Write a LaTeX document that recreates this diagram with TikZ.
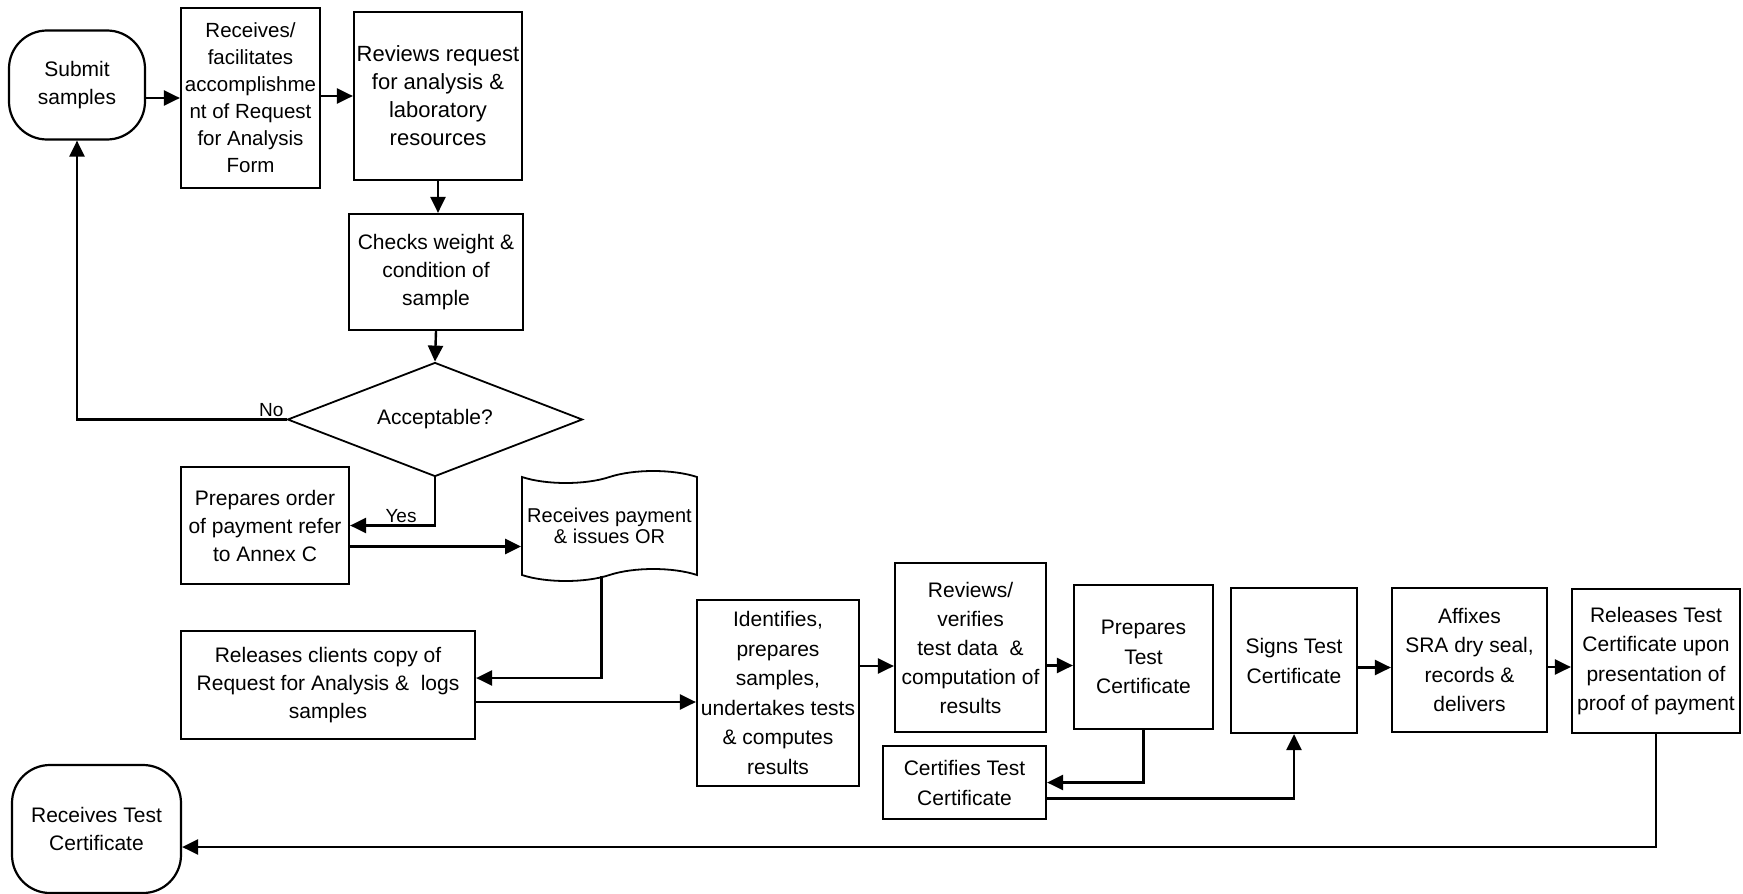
\documentclass[tikz,border=0pt]{standalone}
\usepackage{fontspec}
\setmainfont{Liberation Sans}
\usetikzlibrary{arrows.meta, shapes.geometric, shapes.symbols}

\begin{document}
\begin{tikzpicture}[x=1pt, y=-1pt, ->, >={Triangle[length=16pt,width=15pt]}, line width=2.4pt,
  font=\fontsize{21}{28}\selectfont,
  process/.style={draw, rectangle, align=center, inner sep=0pt, line width=2.2pt},
  terminal/.style={process, rounded corners=38pt},
  decision/.style={draw, diamond, aspect=2.6, inner sep=0pt, line width=1.8pt},
  paper/.style={draw, tape, tape bend height=12pt, align=center, inner sep=0pt, line width=1.8pt, font=\fontsize{20}{21}\selectfont},
  lbl/.style={font=\fontsize{19}{22}\selectfont, inner sep=2pt}]
\useasboundingbox (0,0) rectangle (1743,894);
% Nodes
\node[terminal, minimum width=136pt, minimum height=109pt] (submit) at (77,85) {Submit\\samples};
\node[process, minimum width=139pt, minimum height=180pt, font=\fontsize{20.5}{27}\selectfont] (recv) at (250.5,98) {Receives/\\facilitates\\accomplishme\\nt of Request\\for Analysis\\Form};
\node[process, minimum width=168pt, minimum height=168pt, font=\fontsize{22}{28}\selectfont] (reviews) at (438,96) {Reviews request\\for analysis \&\\laboratory\\resources};
\node[process, minimum width=174pt, minimum height=116pt] (checks) at (436,272) {Checks weight \&\\condition of\\sample};
\node[decision, minimum width=295pt, minimum height=114pt] (accept) at (435,419.5) {Acceptable?};
\node[process, minimum width=168pt, minimum height=117pt] (order) at (265,525.5) {Prepares order\\of payment refer\\to Annex C};
\node[paper, minimum width=175pt, minimum height=110pt] (paytape) at (609.5,526) {Receives payment\\\& issues OR};
\node[process, minimum width=294pt, minimum height=108pt] (copy) at (328,685) {Releases clients copy of\\Request for Analysis \& \ logs\\samples};
\node[process, minimum width=162pt, minimum height=186pt, font=\fontsize{21}{29.5}\selectfont] (ident) at (778,693) {Identifies,\\prepares\\samples,\\undertakes tests\\\& computes\\results};
\node[process, minimum width=151pt, minimum height=169pt, font=\fontsize{21}{29}\selectfont] (verify) at (970.5,647.5) {Reviews/\\verifies\\test data \ \&\\computation of\\results};
\node[process, minimum width=139pt, minimum height=144pt, font=\fontsize{21}{29.5}\selectfont] (prep) at (1143.5,657) {Prepares\\Test\\Certificate};
\node[process, minimum width=163pt, minimum height=73pt, font=\fontsize{21}{30}\selectfont] (certify) at (964.5,782.5) {Certifies Test\\Certificate};
\node[process, minimum width=126pt, minimum height=145pt, font=\fontsize{21}{30}\selectfont] (signs) at (1294,660.5) {Signs Test\\Certificate};
\node[process, minimum width=155pt, minimum height=144pt, font=\fontsize{21}{29.5}\selectfont] (affix) at (1469.5,660) {Affixes\\SRA dry seal,\\records \&\\delivers};
\node[process, minimum width=168pt, minimum height=144pt, font=\fontsize{21}{29.5}\selectfont] (release) at (1656,661) {Releases Test\\Certificate upon\\presentation of\\proof of payment};
\node[terminal, minimum width=169pt, minimum height=128pt] (receive) at (96.5,829) {Receives Test\\Certificate};
% Connectors
\draw (submit.east |- recv.west) -- (recv.west);
\draw (recv.east |- reviews.west) -- (reviews.west);
\draw (reviews.south) -- (reviews.south |- checks.north);
\draw (checks.south) -- (accept.north);
\draw (accept.west) node[lbl, above left] {No} -- (accept.west -| submit.south) -- (submit.south);
\draw (accept.south) |- node[lbl, pos=0.7, above] {Yes} (order.east);
\draw ([yshift=-21pt]order.east) -- ([yshift=-21pt]order.east -| paytape.west);
\draw ([xshift=-8pt]paytape.south) |- ([yshift=7pt]copy.east);
\draw ([yshift=-17pt]copy.east) -- ([yshift=-17pt]copy.east -| ident.west);
\draw ([yshift=27pt]ident.east) -- ([yshift=27pt]ident.east -| verify.west);
\draw ([yshift=-18pt]verify.east) -- ([yshift=-18pt]verify.east -| prep.west);
\draw (prep.south) |- (certify.east);
\draw ([yshift=-16pt]certify.east) -| (signs.south);
\draw ([yshift=-7pt]signs.east) -- ([yshift=-7pt]signs.east -| affix.west);
\draw ([yshift=-7pt]affix.east) -- ([yshift=-7pt]affix.east -| release.west);
\draw (release.south) |- ([yshift=-18pt]receive.east);
\end{tikzpicture}
\end{document}
